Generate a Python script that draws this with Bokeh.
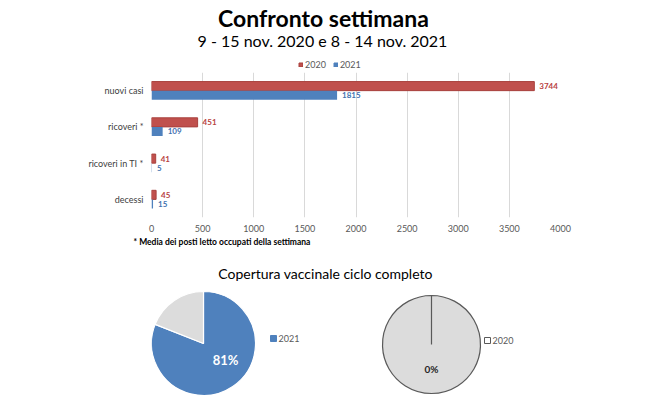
import math
from bokeh.plotting import figure
from bokeh.models import (ColumnDataSource, FactorRange, Range1d, Legend,
                          LegendItem, Title)
from bokeh.transform import dodge
from bokeh.layouts import column
from bokeh.core.properties import value
from bokeh.embed import file_html
from bokeh.resources import INLINE

# ---------------- data ----------------
main_title = "Confronto settimana"
sub_title = "9 - 15 nov. 2020 e 8 - 14 nov. 2021"
categories = ["nuovi casi", "ricoveri *", "ricoveri in TI *", "decessi"]
values_2020 = [3744, 451, 41, 45]
values_2021 = [1815, 109, 5, 15]
series_names = ["2020", "2021"]
x_ticks = [0, 500, 1000, 1500, 2000, 2500, 3000, 3500, 4000]
footnote = "* Media dei posti letto occupati della settimana"
pie_title = "Copertura vaccinale ciclo completo"
pie_years = ["2021", "2020"]
coverage_pct = [81, 0]

FONT = "Lato"
RED = "#C0504D"
RED_EDGE = "#A8403D"
BLUE = "#4F81BD"
W = 660
FL, FR = 151, 560          # frame left / right (shared by the column)
BL, BR = FL, W - FR


def blank(height):
    f = figure(width=W, height=height, x_range=Range1d(FL, FR),
               y_range=Range1d(0, height), x_axis_type=None, y_axis_type=None,
               output_backend="svg", toolbar_location=None,
               min_border_left=BL, min_border_right=BR, min_border_top=0,
               min_border_bottom=0)
    f.outline_line_color = None
    f.grid.visible = False
    return f


# ---------------- header (page y 0..72) ----------------
HH = 72
h = blank(HH)
h.text(x=[323], y=[HH - 17], text=[main_title], text_align="center",
       text_baseline="middle", text_font=value(FONT), text_font_style="bold",
       text_font_size="23px", text_color="#000000")
h.text(x=[322], y=[HH - 40], text=[sub_title], text_align="center",
       text_baseline="middle", text_font=value(FONT), text_font_size="16px",
       text_color="#000000")
# legend swatches for the bar chart below (glyphs kept outside the visible range)
lr20 = h.hbar(y=[-50], left=[FL], right=[FL + 1], height=1, fill_color=RED,
              line_color=RED_EDGE)
lr21 = h.hbar(y=[-50], left=[FL], right=[FL + 1], height=1, fill_color=BLUE,
              line_color=BLUE)
leg = Legend(items=[LegendItem(label=series_names[0], renderers=[lr20]),
                    LegendItem(label=series_names[1], renderers=[lr21])],
             orientation="horizontal", location=(147, 2), padding=0, margin=0,
             spacing=7, label_standoff=2, glyph_width=5, glyph_height=5,
             label_height=9, label_text_font=FONT, label_text_font_size="9px",
             label_text_color="#595959", background_fill_alpha=0,
             border_line_alpha=0)
h.add_layout(leg, "center")

# ---------------- bar chart (page y 72..250) ----------------
p = figure(width=W, height=178, y_range=FactorRange(*reversed(categories)),
           x_range=Range1d(0, 4000), output_backend="svg", toolbar_location=None,
           min_border_left=BL, min_border_right=BR, min_border_top=0,
           min_border_bottom=33)
p.outline_line_color = None
src = ColumnDataSource(dict(cat=categories, v20=values_2020, v21=values_2021,
                            l20=[str(v) for v in values_2020],
                            l21=[str(v) for v in values_2021]))
y20 = dodge("cat", 0.125, range=p.y_range)
y21 = dodge("cat", -0.125, range=p.y_range)
p.hbar(y=y20, left=0, right="v20", height=0.25, fill_color=RED,
       line_color=RED_EDGE, line_width=1, source=src)
p.hbar(y=y21, left=0, right="v21", height=0.25, fill_color=BLUE,
       line_color=None, source=src)
p.text(x="v20", y=y20, text="l20", x_offset=5, text_baseline="middle",
       text_font=value(FONT), text_font_style="bold", text_font_size="8px",
       text_color="#B8423F", source=src)
p.text(x="v21", y=y21, text="l21", x_offset=5, text_baseline="middle",
       text_font=value(FONT), text_font_style="bold", text_font_size="8px",
       text_color="#3F72B0", source=src)
p.xaxis.ticker = x_ticks
for ax in (p.xaxis, p.yaxis):
    ax.axis_line_color = None
    ax.major_tick_line_color = None
    ax.minor_tick_line_color = None
    ax.major_tick_in = 0
    ax.major_tick_out = 0
    ax.minor_tick_in = 0
    ax.minor_tick_out = 0
    ax.major_label_text_font = FONT
    ax.major_label_text_font_size = "9px"
p.xaxis.major_label_text_color = "#595959"
p.yaxis.major_label_text_color = "#404040"
p.xaxis.major_label_standoff = 7
p.yaxis.major_label_standoff = 8
p.xgrid.grid_line_color = "#D9D9D9"
p.ygrid.grid_line_color = None
p.add_layout(Title(text=footnote, align="left", offset=-18, standoff=0,
                   text_font=FONT, text_font_size="8.5px", text_font_style="bold",
                   text_color="#000000"), "below")

# ---------------- pies (page y 250..400) ----------------
PH = 150
BASE = 400                 # data y = 400 - page y
q = blank(PH)
q.text(x=[325], y=[BASE - 273], text=[pie_title], text_align="center",
       text_baseline="middle", text_font=value(FONT), text_font_size="14px",
       text_color="#000000")

pie_cx = [203, 431]
pie_cy = [BASE - 343, BASE - 344]
pie_r = [52, 49]
pie_line = ["#FFFFFF", "#595959"]
label_pos = [(225, BASE - 359), (431, BASE - 368)]
label_color = ["#FFFFFF", "#262626"]
label_size = ["13px", "10px"]
leg_pos = [(273, BASE - 338), (487, BASE - 340)]
leg_fill = [BLUE, "#FFFFFF"]
leg_line = [BLUE, "#595959"]

for i, year in enumerate(pie_years):
    pct = coverage_pct[i]
    slices = [pct, 100 - pct]
    colors = [BLUE, "#DCDCDC"]
    cum = 0.0
    starts, ends, cols = [], [], []
    for s, c in zip(slices, colors):
        if s <= 0:
            continue
        frac = min(s / 100.0, 0.99999)
        starts.append(math.pi / 2 - 2 * math.pi * cum)
        ends.append(math.pi / 2 - 2 * math.pi * (cum + frac))
        cols.append(c)
        cum += s / 100.0
    n = len(starts)
    q.wedge(x=[pie_cx[i]] * n, y=[pie_cy[i]] * n, radius=pie_r[i],
            start_angle=starts, end_angle=ends, direction="clock",
            fill_color=cols, line_color=pie_line[i], line_width=1.2)
    q.text(x=[label_pos[i][0]], y=[label_pos[i][1]], text=[f"{pct}%"],
           text_align="center", text_baseline="middle", text_font=value(FONT),
           text_font_style="bold", text_font_size=label_size[i],
           text_color=label_color[i])
    q.scatter(x=[leg_pos[i][0]], y=[leg_pos[i][1]], marker="square", size=6,
              fill_color=leg_fill[i], line_color=leg_line[i], line_width=1)
    q.text(x=[leg_pos[i][0] + 5], y=[leg_pos[i][1]], text=[year],
           text_baseline="middle", text_font=value(FONT), text_font_size="9px",
           text_color="#595959")

layout = column(h, p, q, spacing=0)
open("out.html", "w").write(file_html(layout, INLINE))
